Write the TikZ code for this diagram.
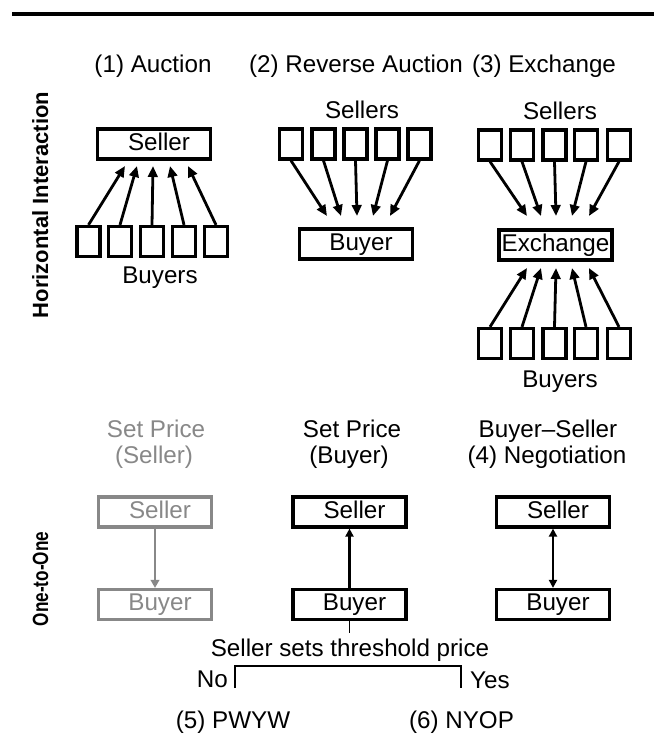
\documentclass[tikz,border=0pt]{standalone}
\usepackage{fontspec}
\setmainfont{Liberation Sans}
\usetikzlibrary{arrows.meta}
\definecolor{greyc}{RGB}{136,136,136}
\begin{document}
\begin{tikzpicture}[x=1pt,y=-1pt,
  every node/.style={font=\fontsize{24.2}{29}\selectfont, text height=17.3pt, text depth=5pt, inner sep=0pt},
  bigbox/.style={draw, line width=3.2pt, minimum width=113pt, minimum height=30pt},
  smallbox/.style={draw, line width=3.2pt, minimum width=23pt, minimum height=30pt},
  greybox/.style={bigbox, draw=greyc, text=greyc},
  arr/.style={line width=2.8pt, -{Triangle[length=11pt,width=9.5pt]}},
  sidelabel/.style={rotate=90, font=\fontsize{22}{26}\selectfont\bfseries},
  thin/.style={line width=1.6pt}]
\useasboundingbox (0,0) rectangle (654,753);
% top rule
\coordinate (rl) at (12,14);
\coordinate (rr) at (654,14);
\draw[line width=3.5pt] (rl) -- (rr);
% side labels
\node[sidelabel] (hi) at (42,205) {Horizontal Interaction};
\node[sidelabel] (oo) at (42,579) {\scalebox{0.78}[1]{One-to-One}};
% headers
\node (h1) at (153,66) {(1) Auction};
\node (h2) at (356,66) {(2) Reverse Auction};
\node (h3) at (544,66) {(3) Exchange};
% (1) Auction
\node[bigbox] (as) at (154,144) {\hspace*{10pt}Seller};
\foreach \i/\x/\t in {1/88.5/125,2/120/137,3/152/153,4/184/170,5/216/188}{
  \node[smallbox] (ab\i) at (\x,241.5) {};
  \coordinate (at\i) at (\t,166);
  \draw[arr] (ab\i.north) -- (at\i);
}
\node (abl) at (160,277) {Buyers};
% (2) Reverse Auction
\node (rsl) at (362,112) {Sellers};
\node[bigbox] (rb) at (356,244) {\hspace*{10pt}Buyer};
\foreach \i/\x/\t in {1/291/327,2/323.5/341,3/355.5/357,4/387.5/373,5/419.5/390}{
  \node[smallbox] (rs\i) at (\x,144) {};
  \coordinate (rt\i) at (\t,216);
  \draw[arr] (rs\i.south) -- (rt\i);
}
% (3) Exchange
\node (esl) at (560,113) {Sellers};
\node[bigbox] (ex) at (555.5,245) {Exchange};
\foreach \i/\x/\t in {1/490/527,2/522/541,3/554.5/556,4/586/572,5/619/589}{
  \node[smallbox] (es\i) at (\x,145) {};
  \coordinate (et\i) at (\t,216);
  \draw[arr] (es\i.south) -- (et\i);
  \node[smallbox] (eb\i) at (\x,343.5) {};
  \coordinate (eu\i) at (\t,268);
  \draw[arr] (eb\i.north) -- (eu\i);
}
\node (ebl) at (560,381) {Buyers};
% One-to-one headers
\node[text=greyc] (p1a) at (156,431) {Set Price};
\node[text=greyc] (p1b) at (154,457) {(Seller)};
\node (p2a) at (352,431) {Set Price};
\node (p2b) at (349,457) {(Buyer)};
\node (p3a) at (548,431) {Buyer--Seller};
\node (p3b) at (547,457) {(4) Negotiation};
% One-to-one boxes
\node[greybox] (c1s) at (155,512) {\hspace*{10pt}Seller};
\node[greybox] (c1b) at (155,604.5) {\hspace*{10pt}Buyer};
\node[bigbox] (c2s) at (349.5,512) {\hspace*{10pt}Seller};
\node[bigbox] (c2b) at (349.5,604.5) {\hspace*{10pt}Buyer};
\node[bigbox] (c3s) at (553,512) {\hspace*{10pt}Seller};
\node[bigbox] (c3b) at (553,604.5) {\hspace*{10pt}Buyer};
\draw[greyc, line width=2.4pt, -{Triangle[length=8pt,width=8.5pt]}] (c1s.south) -- (c1b.north);
\draw[line width=2.8pt, -{Triangle[length=8pt,width=8pt]}] (c2b.north) -- (c2s.south);
\draw[line width=2.8pt, {Triangle[length=8pt,width=8pt]}-{Triangle[length=8pt,width=8pt]}] (c3s.south) -- (c3b.north);
% threshold decision
\coordinate (stem) at (349.5,633);
\draw[thin] (c2b.south) -- (stem);
\node (thr) at (350,650) {Seller sets threshold price};
\coordinate (bl) at (235,688);
\coordinate (bl2) at (235,666);
\coordinate (br2) at (461,666);
\coordinate (br) at (461,688);
\draw[thin] (bl) -- (bl2) -- (br2) -- (br);
\node[anchor=east] (no) at (228,681) {No};
\node[anchor=west] (yes) at (470,682) {Yes};
\node (pw) at (233,722) {(5) PWYW};
\node (ny) at (461.5,722) {(6) NYOP};
\end{tikzpicture}
\end{document}
